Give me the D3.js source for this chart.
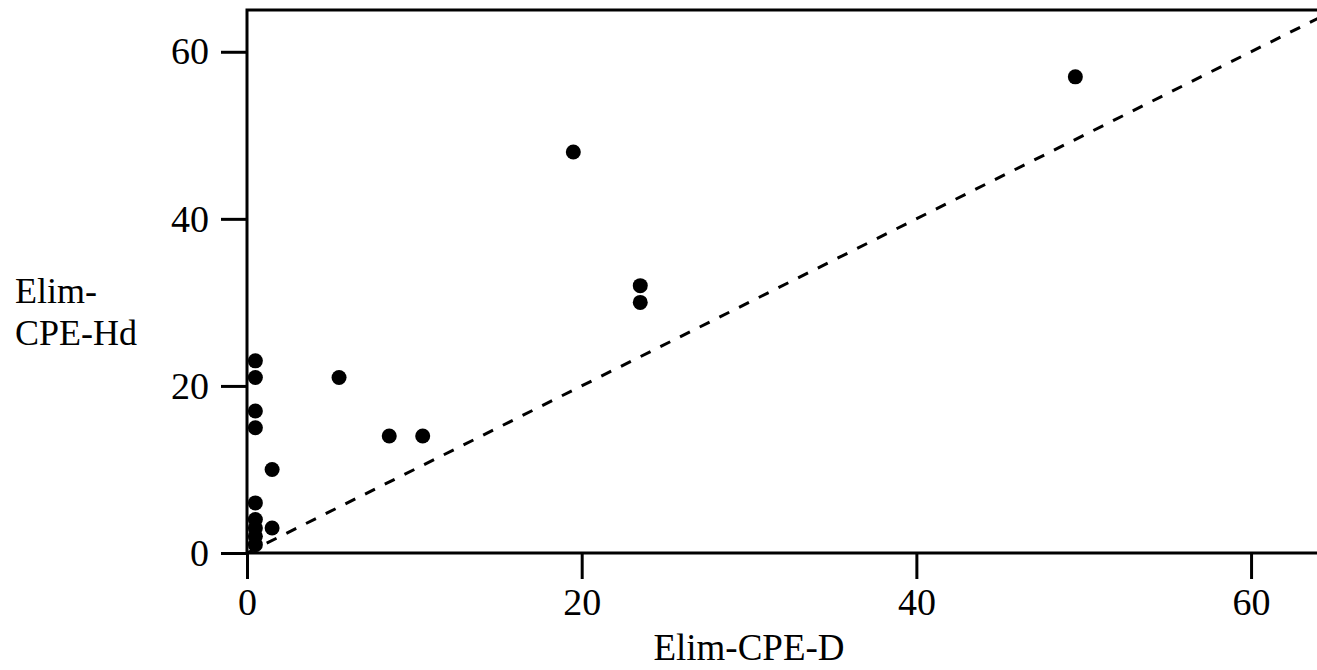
<!DOCTYPE html>
<html>
<head>
<meta charset="utf-8">
<script src="https://cdn.jsdelivr.net/npm/d3@7"></script>
<style>
  body { margin: 0; background: #fff; }
  svg text { font-family: "Liberation Serif", "DejaVu Serif", serif; fill: #000; }
</style>
</head>
<body>
<script>
// values
var xVals = [49.5, 19.5, 23.5, 23.5, 5.5, 8.5, 10.5, 0.5, 0.5, 0.5, 0.5, 1.5, 0.5, 0.5, 0.5, 0.5, 0.5, 1.5];
var yVals = [57, 48, 32, 30, 21, 14, 14, 23, 21, 17, 15, 10, 6, 4, 3, 2, 1, 3];
var xTicks = [0, 20, 40, 60];
var yTicks = [0, 20, 40, 60];
var xLabel = "Elim-CPE-D";
var yLabel = ["Elim-", "CPE-Hd"];

var w = 1317, h = 670;
var padLeft = 247, padTop = 10, padBottom = 553;

var points = xVals.map(function(d, i) { return {x: d, y: yVals[i]}; });

var svg = d3.select("body")
    .append("svg")
    .attr("width", w)
    .attr("height", h);

var x = d3.scaleLinear().domain([0, 64]).range([padLeft, 1318]);
var y = d3.scaleLinear().domain([0, 65]).range([padBottom, padTop]);

// frame (right side falls outside the picture)
svg.append("path")
    .attr("d", "M" + (w + 10) + "," + padTop + "H" + padLeft + "V" + padBottom + "H" + (w + 10))
    .attr("fill", "none")
    .attr("stroke", "#000")
    .attr("stroke-width", 3);

var yAxis = svg.append("g")
    .attr("transform", "translate(" + padLeft + ",0)")
    .call(d3.axisLeft(y).tickValues(yTicks).tickSize(26).tickSizeOuter(0).tickPadding(12));
yAxis.select(".domain").remove();
yAxis.selectAll("line").attr("stroke-width", 3);
yAxis.selectAll("text").attr("font-size", "38px").attr("font-family", null);

var xAxis = svg.append("g")
    .attr("transform", "translate(0," + padBottom + ")")
    .call(d3.axisBottom(x).tickValues(xTicks).tickSize(26).tickSizeOuter(0).tickPadding(9));
xAxis.select(".domain").remove();
xAxis.selectAll("line").attr("stroke-width", 3);
xAxis.selectAll("text").attr("font-size", "38px").attr("font-family", null);

// y = x reference line
svg.append("line")
    .attr("x1", x(0)).attr("y1", y(0))
    .attr("x2", x(64)).attr("y2", y(64))
    .attr("stroke", "#000")
    .attr("stroke-width", 3)
    .attr("stroke-dasharray", "11,11");

svg.selectAll("circle")
    .data(points)
    .enter()
    .append("circle")
    .attr("cx", function(d) { return x(d.x); })
    .attr("cy", function(d) { return y(d.y); })
    .attr("r", 7.5)
    .attr("fill", "#000");

svg.append("text")
    .attr("x", 749)
    .attr("y", 660)
    .attr("text-anchor", "middle")
    .attr("font-size", "37px")
    .text(xLabel);

svg.selectAll(".ylab")
    .data(yLabel)
    .enter()
    .append("text")
    .attr("class", "ylab")
    .attr("x", 15)
    .attr("y", function(d, i) { return 303 + i * 42; })
    .attr("font-size", "36px")
    .text(function(d) { return d; });
</script>
</body>
</html>
